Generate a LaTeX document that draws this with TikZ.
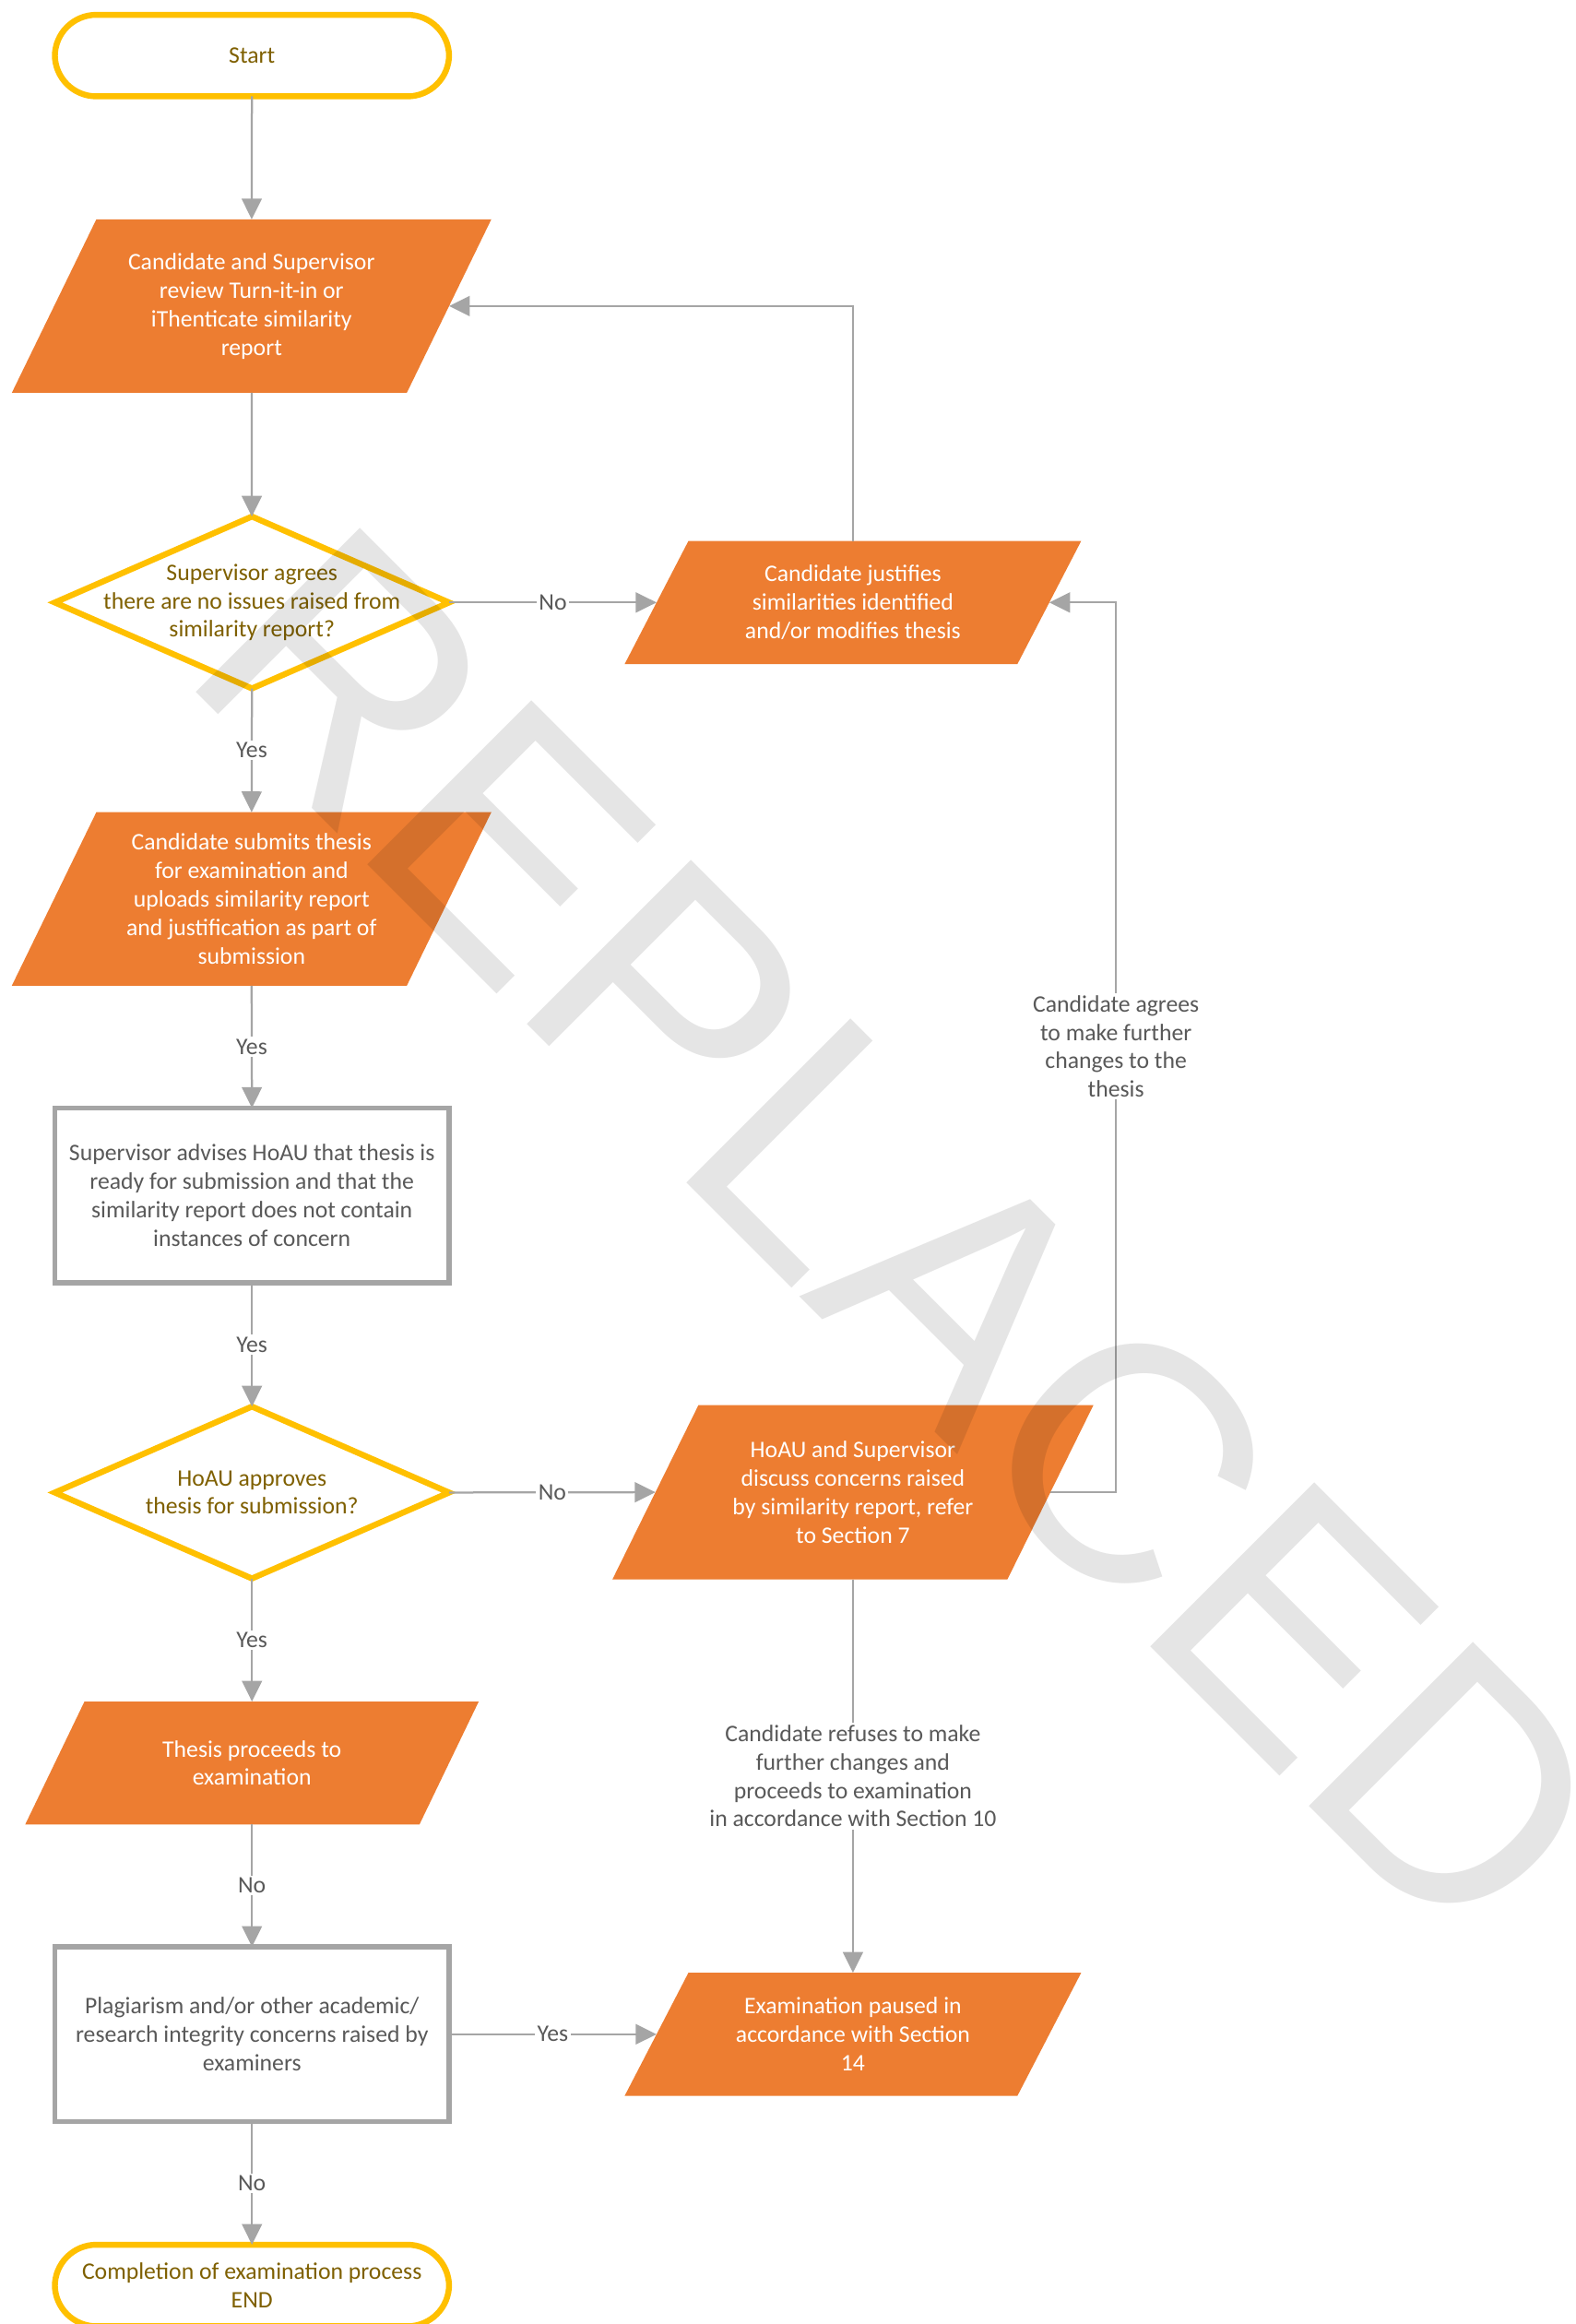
\documentclass[tikz,border=0pt]{standalone}
\usepackage{fontspec}
\setmainfont{Carlito}
\newfontfamily\wmfont{Liberation Sans}
\usetikzlibrary{shapes.geometric,arrows.meta,backgrounds}
\definecolor{orng}{HTML}{ED7D31}
\definecolor{ylw}{HTML}{FFC000}
\definecolor{gold}{HTML}{7F6000}
\definecolor{gbord}{HTML}{A5A5A5}
\definecolor{gtext}{HTML}{595959}
\newcommand\parafill[2]{\fill[orng] ([xshift=#2]#1.north west) -- ([xshift=#2]#1.north east) -- ([xshift=-#2]#1.south east) -- ([xshift=-#2]#1.south west) -- cycle;}
\begin{document}
\begin{tikzpicture}[x=1pt,y=-1pt,
  base/.style={font=\fontsize{16}{19.2}\selectfont, align=center, inner sep=0pt, outer sep=0pt},
  term/.style={base, rectangle, rounded corners=28pt, draw=ylw, line width=4pt, minimum width=266pt, minimum height=55pt, text=gold},
  dec/.style={diamond, draw=ylw, line width=4pt, minimum width=266pt, minimum height=116pt, inner sep=0pt, outer sep=0pt},
  dectext/.style={base, text=gold},
  para/.style={base, rectangle, text=white},
  box/.style={base, rectangle, draw=gbord, line width=3.5pt, minimum width=266pt, minimum height=118pt, text=gtext},
  lbl/.style={base, fill=white, text=gtext, inner sep=1.5pt},
  arr/.style={draw=gbord, line width=1.4pt, -{Triangle[length=14pt,width=13.5pt]}}
]
\useasboundingbox (0,0) rectangle (1063,1568);

\node[term] (start) at (170,37.5) {Start};
\node[para, minimum width=266.5pt, minimum height=117pt] (p1) at (169.75,206.5)
  {Candidate and Supervisor\\review Turn-it-in or\\iThenticate similarity\\report};
\node[dec, label={[dectext]center:Supervisor agrees\\there are no issues raised from\\similarity report?}] (d1) at (170,406.5) {};
\node[para, minimum width=265pt, minimum height=83pt] (p2) at (575.5,406.5)
  {Candidate justifies\\similarities identified\\and/or modifies thesis};
\node[para, minimum width=266.5pt, minimum height=117pt] (p3) at (169.75,606.5)
  {Candidate submits thesis\\for examination and\\uploads similarity report\\and justification as part of\\submission};
\node[box] (r1) at (170,806.5)
  {Supervisor advises HoAU that thesis is\\ready for submission and that the\\similarity report does not contain\\instances of concern};
\node[dec, label={[dectext]center:HoAU approves\\thesis for submission?}] (d2) at (170,1007) {};
\node[para, minimum width=266.5pt, minimum height=117.5pt] (p4) at (575.5,1006.8)
  {HoAU and Supervisor\\discuss concerns raised\\by similarity report, refer\\to Section 7};
\node[para, minimum width=266pt, minimum height=83pt] (p5) at (170,1189.5)
  {Thesis proceeds to\\examination};
\node[box] (r2) at (170,1372.5)
  {Plagiarism and/or other academic/\\research integrity concerns raised by\\examiners};
\node[para, minimum width=265pt, minimum height=83pt] (p6) at (575.5,1372.5)
  {Examination paused in\\accordance with Section\\14};
\node[term] (end) at (170,1542) {Completion of examination process\\END};

\begin{scope}[on background layer]
  \fill[white] (0,0) rectangle (1063,1568);
  \parafill{p1}{28.5pt}
  \parafill{p2}{21.5pt}
  \parafill{p3}{28.5pt}
  \parafill{p4}{29pt}
  \parafill{p5}{20pt}
  \parafill{p6}{21.5pt}
\end{scope}

\coordinate (rj) at (753,706);

\draw[arr] (start) -- (p1);
\draw[arr] (p1) -- (d1);
\draw[arr] (d1.east) -- node[lbl] {No} (p2.west);
\draw[arr] (p2.north) |- (p1.east);
\draw[arr] (d1.south) -- node[lbl] {Yes} (p3.north);
\draw[arr] (p3.south) -- node[lbl] {Yes} (r1.north);
\draw[arr] (r1.south) -- node[lbl] {Yes} (d2.north);
\draw[arr] (d2.east) -- node[lbl] {No} (p4.west);
\draw[arr] (p4.east) -| (rj) node[lbl] {Candidate agrees\\to make further\\changes to the\\thesis} |- (p2.east);
\draw[arr] (p4.south) -- node[lbl] {Candidate refuses to make\\further changes and\\proceeds to examination\\in accordance with Section 10} (p6.north);
\draw[arr] (d2.south) -- node[lbl] {Yes} (p5.north);
\draw[arr] (p5.south) -- node[lbl] {No} (r2.north);
\draw[arr] (r2.east) -- node[lbl] {Yes} (p6.west);
\draw[arr] (r2.south) -- node[lbl] {No} (end.north);

\node[anchor=base west, rotate=-45, text=black, text opacity=0.1, inner sep=0pt, outer sep=0pt,
  font=\wmfont\fontsize{227.6}{228}\selectfont] (wm) at (119,454.1) {REPLACED};
\end{tikzpicture}
\end{document}
